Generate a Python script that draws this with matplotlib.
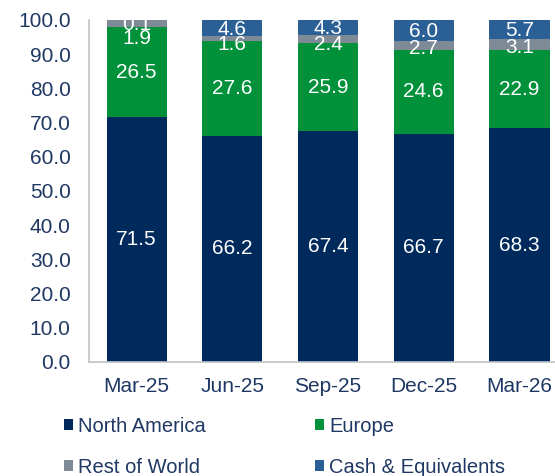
import matplotlib.pyplot as plt
import numpy as np

quarters = ["Mar-25", "Jun-25", "Sep-25", "Dec-25", "Mar-26"]
north_america = [71.5, 66.2, 67.4, 66.7, 68.3]
europe = [26.5, 27.6, 25.9, 24.6, 22.9]
rest_of_world = [1.9, 1.6, 2.4, 2.7, 3.1]
cash = [0.1, 4.6, 4.3, 6.0, 5.7]

# name, values, colour, vertical label nudge per bar (pixels)
series = [
    ("North America", north_america, "#002A5C", [0, 0, 0, 0, 0]),
    ("Europe", europe, "#00913A", [0, 0, 0, 0, 0]),
    ("Rest of World", rest_of_world, "#7F8A97", [-15, -6, -6, -3, -3]),
    ("Cash & Equivalents", cash, "#2A6096", [-4, -2, -1, -1, -1]),
]
text_col = "#1F3864"
font = "Liberation Sans"

fig = plt.figure(figsize=(5.55, 4.76), dpi=100)
ax = fig.add_axes([0.160, 0.2395, 0.862, 0.7185])

x = np.arange(len(quarters))
bottom = np.zeros(len(quarters))
handles = []
for name, vals, col, nudges in series:
    vals = np.array(vals)
    b = ax.bar(x, vals, 0.63, bottom=bottom, color=col, label=name)
    handles.append(b)
    for xi, v, b0, dy in zip(x, vals, bottom, nudges):
        t = ax.annotate(f"{v:.1f}", (xi, b0 + v / 2), xytext=(0, dy),
                        textcoords="offset pixels", ha="center", va="center",
                        color="white", fontsize=15, fontfamily=font)
        t.set_clip_on(True)
    bottom += vals

ax.set_xlim(-0.5, 4.5)
ax.set_ylim(0, 100)
ax.set_yticks(np.arange(0, 101, 10))
ax.set_yticklabels([f"{v:.1f}" for v in np.arange(0, 101, 10)])
ax.set_xticks(x)
ax.set_xticklabels(quarters)
for lbl in ax.get_xticklabels() + ax.get_yticklabels():
    lbl.set_fontfamily(font)
    lbl.set_fontsize(15)
    lbl.set_color(text_col)
ax.tick_params(axis="both", length=0)
ax.tick_params(axis="y", pad=13)
ax.tick_params(axis="x", pad=11)
for s in ["top", "right"]:
    ax.spines[s].set_visible(False)
for s in ["left", "bottom"]:
    ax.spines[s].set_color("#BFC4CA")
    ax.spines[s].set_linewidth(1.2)

# legend filled row by row like the original
order = [0, 2, 1, 3]
leg = fig.legend(handles=[handles[i] for i in order], loc="upper left",
                 bbox_to_anchor=(0.083, 0.163), ncol=2, frameon=False,
                 handlelength=0.45, handleheight=0.45, handletextpad=0.25,
                 columnspacing=5.4, labelspacing=1.1,
                 prop={"family": font, "size": 14.5})
for t in leg.get_texts():
    t.set_color(text_col)

fig.savefig("out.png", dpi=100)
